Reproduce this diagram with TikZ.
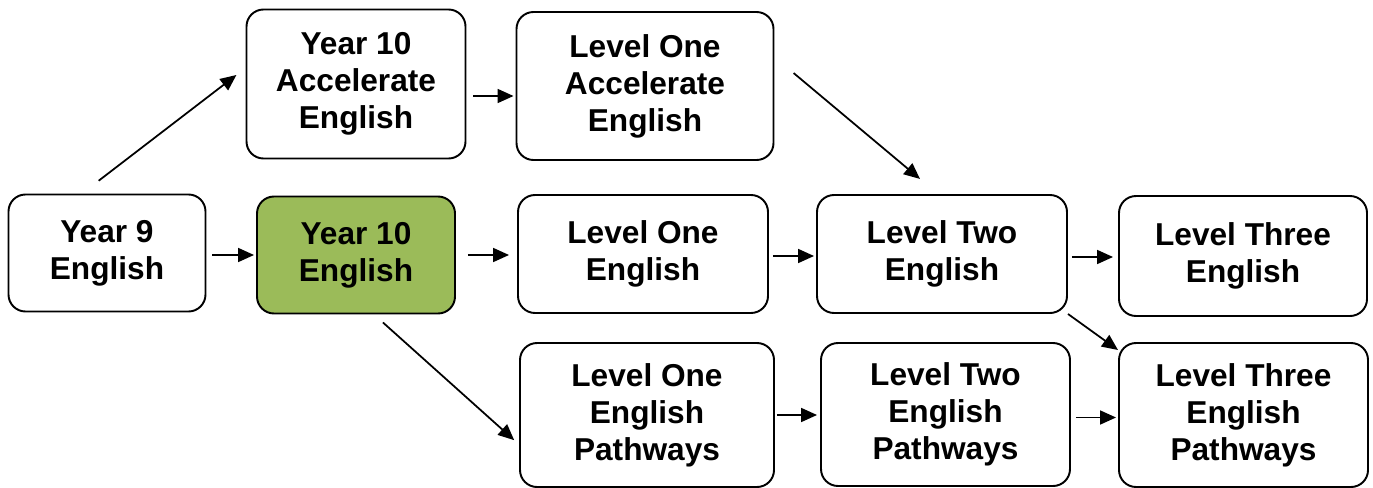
\documentclass[tikz,border=0pt]{standalone}
\usepackage{fontspec}
\setmainfont{Liberation Sans}
\usetikzlibrary{arrows.meta}
\definecolor{yrgreen}{HTML}{9BBB59}
\tikzset{
  course/.style={draw,line width=1.1pt,rounded corners=0.34cm,align=center,inner sep=0pt,
    font=\fontsize{18}{21}\selectfont\bfseries},
  link/.style={-{Triangle[length=0.32cm,width=0.28cm]},line width=1pt},
}

\begin{document}
\begin{tikzpicture}
      \useasboundingbox (0,0) rectangle (27.46,-9.76);
      % first column
      \node[course,minimum width=3.94cm,minimum height=2.34cm] (y9) at (2.14,-5.06) {Year 9\\English};
      % year ten
      \node[course,minimum width=4.38cm,minimum height=2.98cm] (acc10) at (7.12,-1.68) {Year 10\\Accelerate\\English};
      \node[course,fill=yrgreen,minimum width=3.96cm,minimum height=2.34cm] (y10) at (7.12,-5.10) {Year 10\\English};
      % level one
      \node[course,minimum width=5.14cm,minimum height=2.96cm] (l1acc) at (12.90,-1.72) {Level One\\Accelerate\\English};
      \node[course,minimum width=5.0cm,minimum height=2.36cm] (l1) at (12.86,-5.08) {Level One\\English};
      \node[course,minimum width=5.08cm,minimum height=2.88cm] (l1p) at (12.94,-8.30) {Level One\\English\\Pathways};
      % level two
      \node[course,minimum width=5.0cm,minimum height=2.36cm] (l2) at (18.84,-5.08) {Level Two\\English};
      \node[course,minimum width=4.98cm,minimum height=2.86cm] (l2p) at (18.91,-8.29) {Level Two\\English\\Pathways};
      % level three
      \node[course,minimum width=4.96cm,minimum height=2.4cm] (l3) at (24.86,-5.12) {Level Three\\English};
      \node[course,minimum width=4.98cm,minimum height=2.88cm] (l3p) at (24.87,-8.30) {Level Three\\English\\Pathways};
      % arrows
      \draw[link,shorten <=0.42cm,shorten >=0.23cm] ([xshift=-0.5cm]y9.north) -- ([yshift=0.32cm]acc10.west);
      \draw[link,shorten <=0.12cm,shorten >=0.04cm] ([yshift=-0.04cm]y9.east) -- ([yshift=-0.04cm]y9.east -| y10.west);
      \draw[link,shorten <=0.14cm,shorten >=0.04cm] ([yshift=-0.24cm]acc10.east) -- ([yshift=-0.24cm]acc10.east -| l1acc.west);
      \draw[link,shorten <=0.5cm,shorten >=0.47cm] ([yshift=0.58cm]l1acc.east) -- ([xshift=-0.08cm]l2.north);
      \draw[link,shorten <=0.24cm,shorten >=0.16cm] (y10.east) -- (y10.east -| l1.west);
      \draw[link,shorten <=0.24cm,shorten >=0.13cm] ([xshift=0.36cm]y10.south) -- ([yshift=-0.59cm]l1p.west);
      \draw[link,shorten <=0.08cm,shorten >=0.04cm] ([yshift=-0.04cm]l1.east) -- ([yshift=-0.04cm]l1.east -| l2.west);
      \draw[link,shorten <=0.08cm,shorten >=0.10cm] ([yshift=-0.06cm]l2.east) -- ([yshift=-0.06cm]l2.east -| l3.west);
      \draw[link] (l2.south east) -- ([yshift=-0.16cm]l3p.north west);
      \draw[link,shorten <=0.04cm,shorten >=0.06cm] (l1p.east) -- (l1p.east -| l2p.west);
      \draw[link,shorten <=0.1cm,shorten >=0.04cm] ([yshift=-0.06cm]l2p.east) -- ([yshift=-0.06cm]l2p.east -| l3p.west);
    \end{tikzpicture}
\end{document}
